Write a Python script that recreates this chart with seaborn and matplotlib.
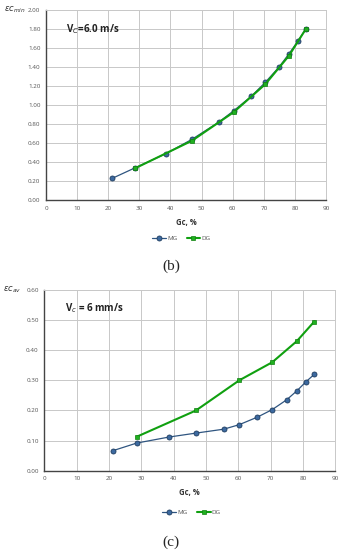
import matplotlib
matplotlib.use("Agg")
import matplotlib.pyplot as plt
import seaborn as sns
import pandas as pd

# strain vs Gc for the two gradings
gc_mg = [21.3, 28.6, 38.6, 46.9, 55.5, 60.3, 65.9, 70.5, 74.9, 78.1, 80.9, 83.5]
gc_dg = [28.6, 46.9, 60.3, 70.5, 78.1, 83.5]
eps_min_mg = [0.23, 0.34, 0.49, 0.64, 0.82, 0.94, 1.09, 1.24, 1.40, 1.54, 1.67, 1.80]
eps_min_dg = [0.335, 0.625, 0.925, 1.22, 1.52, 1.80]
eps_av_mg = [0.067, 0.092, 0.112, 0.125, 0.138, 0.153, 0.178, 0.203, 0.235, 0.265, 0.295, 0.320]
eps_av_dg = [0.113, 0.20, 0.30, 0.36, 0.43, 0.495]

x_ticks = list(range(0, 91, 10))
blue = "#2f5580"
green = "#10a010"

sns.set_style("whitegrid")
plt.rcParams['font.family'] = ['Open Sans', 'DejaVu Sans']

fig = plt.figure(figsize=(3.42, 5.5), dpi=100)
ax1 = fig.add_axes([0.1345, 0.636, 0.819, 0.346])
ax2 = fig.add_axes([0.1295, 0.144, 0.851, 0.329])


def draw(ax, mg, dg, ymax, ystep, ylab, vtext):
    df_mg = pd.DataFrame({"Gc": gc_mg, "eps": mg})
    df_dg = pd.DataFrame({"Gc": gc_dg, "eps": dg})
    sns.lineplot(data=df_mg, x="Gc", y="eps", ax=ax, color=blue, lw=0.9,
                 marker="o", markersize=3.6, markerfacecolor="#3d6aa0",
                 markeredgecolor="#1f3d60", markeredgewidth=0.6, label="MG")
    sns.lineplot(data=df_dg, x="Gc", y="eps", ax=ax, color=green, lw=1.5,
                 marker="s", markersize=3.3, markerfacecolor="#20b020",
                 markeredgecolor="#108010", markeredgewidth=0.5, label="DG")
    ax.set_xlim(0, 90)
    ax.set_ylim(0, ymax)
    ax.set_xticks(x_ticks)
    n = int(round(ymax / ystep))
    yt = [i * ystep for i in range(n + 1)]
    ax.set_yticks(yt)
    ax.set_yticklabels([f"{v:.2f}" for v in yt])
    ax.tick_params(labelsize=4.5, colors="#555555", length=2, pad=2)
    ax.grid(True, color="#c8c8c8", lw=0.7)
    for s in ["top", "right"]:
        ax.spines[s].set_color("#c8c8c8")
        ax.spines[s].set_linewidth(0.7)
    for s in ["left", "bottom"]:
        ax.spines[s].set_color("#444444")
        ax.spines[s].set_linewidth(1.0)
    ax.set_xlabel("Gc, %", fontsize=5.5, fontweight="bold", color="#333333", labelpad=5)
    ax.set_ylabel("")
    ax.text(-0.11, 1.0, ylab, transform=ax.transAxes, fontsize=6,
            family="DejaVu Serif", va="center", ha="center", color="#333333")
    ax.text(0.07, 0.9, vtext, transform=ax.transAxes, fontsize=7,
            fontweight="bold", va="center", ha="left", color="#222222")
    ax.get_legend().remove()


draw(ax1, eps_min_mg, eps_min_dg, 2.0, 0.2, r"$\varepsilon c_{min}$", r"V$_C$=6.0 m/s")
draw(ax2, eps_av_mg, eps_av_dg, 0.6, 0.1, r"$\varepsilon c_{av}$", r"V$_c$ = 6 mm/s")

h, l = ax1.get_legend_handles_labels()
fig.legend(h, l, loc="center", bbox_to_anchor=(0.53, 0.567), ncol=2, frameon=False,
           fontsize=4.5, handlelength=2.2, columnspacing=1.5, handletextpad=0.2,
           labelcolor="#555555")
h, l = ax2.get_legend_handles_labels()
fig.legend(h, l, loc="center", bbox_to_anchor=(0.56, 0.069), ncol=2, frameon=False,
           fontsize=4.5, handlelength=2.2, columnspacing=1.5, handletextpad=0.2,
           labelcolor="#555555")

fig.text(0.5, 0.515, "(b)", fontsize=11, family="Liberation Serif", ha="center", va="center")
fig.text(0.5, 0.0145, "(c)", fontsize=11, family="Liberation Serif", ha="center", va="center")

fig.savefig("out.png", dpi=100)
